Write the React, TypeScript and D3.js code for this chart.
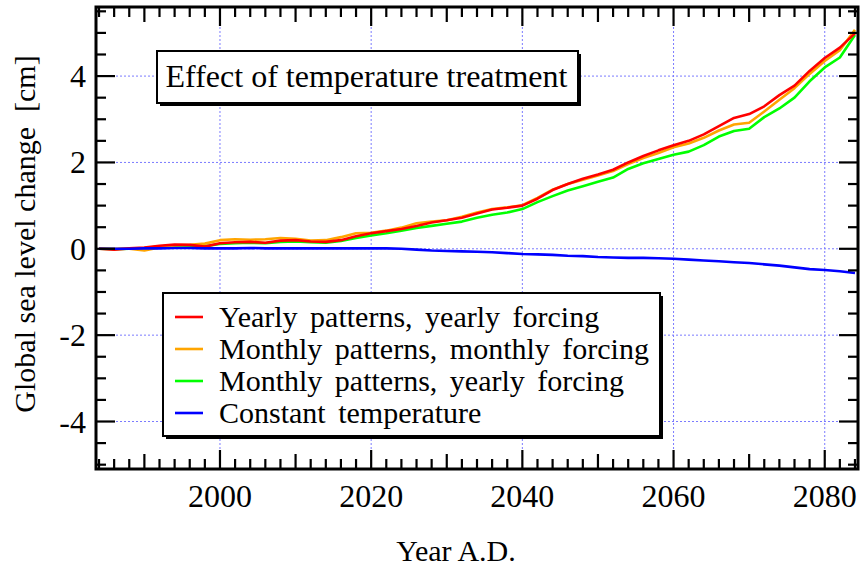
import { useEffect, useRef } from 'react';
import * as d3 from 'd3';

// x values: model years, every 2 years
const years = [
  1984, 1986, 1988, 1990, 1992, 1994, 1996, 1998, 2000, 2002,
  2004, 2006, 2008, 2010, 2012, 2014, 2016, 2018, 2020, 2022,
  2024, 2026, 2028, 2030, 2032, 2034, 2036, 2038, 2040, 2042,
  2044, 2046, 2048, 2050, 2052, 2054, 2056, 2058, 2060, 2062,
  2064, 2066, 2068, 2070, 2072, 2074, 2076, 2078, 2080, 2082,
  2084,
];

// global sea level change [cm]
const yearlyYearly = [
  0.0, -0.02, 0.01, 0.03, 0.07, 0.1, 0.09, 0.05, 0.13, 0.15,
  0.16, 0.14, 0.19, 0.2, 0.17, 0.16, 0.2, 0.29, 0.36, 0.41,
  0.46, 0.53, 0.61, 0.66, 0.72, 0.82, 0.91, 0.95, 1.0, 1.16,
  1.36, 1.5, 1.62, 1.72, 1.83, 2.0, 2.15, 2.28, 2.4, 2.5,
  2.65, 2.84, 3.03, 3.12, 3.3, 3.56, 3.78, 4.12, 4.42, 4.66,
  4.99,
];
const monthlyMonthly = [
  0.0, 0.0, 0.0, -0.04, 0.03, 0.08, 0.09, 0.12, 0.2, 0.22,
  0.21, 0.22, 0.25, 0.23, 0.19, 0.2, 0.27, 0.36, 0.37, 0.42,
  0.49, 0.59, 0.63, 0.66, 0.74, 0.84, 0.92, 0.96, 1.01, 1.18,
  1.37, 1.5, 1.6, 1.7, 1.8, 1.96, 2.1, 2.22, 2.35, 2.44,
  2.57, 2.74, 2.88, 2.92, 3.18, 3.45, 3.72, 4.05, 4.35, 4.6,
  5.07,
];
const monthlyYearly = [
  0.0, -0.01, 0.0, 0.02, 0.05, 0.08, 0.07, 0.06, 0.11, 0.13,
  0.14, 0.13, 0.16, 0.17, 0.15, 0.14, 0.18, 0.25, 0.31, 0.36,
  0.42, 0.48, 0.53, 0.58, 0.63, 0.72, 0.79, 0.84, 0.92, 1.08,
  1.22, 1.35, 1.45, 1.55, 1.65, 1.85, 1.98, 2.08, 2.18, 2.25,
  2.4, 2.6, 2.73, 2.78, 3.05, 3.25, 3.5, 3.88, 4.2, 4.43,
  4.95,
];
const constantTemp = [
  0.0, 0.0, 0.0, 0.01, 0.01, 0.02, 0.02, 0.01, 0.01, 0.01,
  0.02, 0.01, 0.01, 0.01, 0.01, 0.01, 0.01, 0.01, 0.01, 0.01,
  0.0, -0.02, -0.04, -0.05, -0.06, -0.07, -0.08, -0.1, -0.12, -0.13,
  -0.14, -0.16, -0.17, -0.19, -0.2, -0.21, -0.21, -0.22, -0.23, -0.25,
  -0.27, -0.29, -0.31, -0.33, -0.36, -0.39, -0.43, -0.47, -0.49, -0.52,
  -0.56,
];

const seriesNames = [
  'Yearly patterns, yearly forcing',
  'Monthly patterns, monthly forcing',
  'Monthly patterns, yearly forcing',
  'Constant temperature',
];
const seriesColors = ['#ff0000', '#ffa500', '#00ff00', '#0000ff'];

const xTickValues = [2000, 2020, 2040, 2060, 2080];
const yTickValues = [-4, -2, 0, 2, 4];

const titleText = 'Effect of temperature treatment';
const xTitle = 'Year A.D.';
const yTitle = 'Global sea level change  [cm]';

const FONT = 'Liberation Serif';

function App() {
  const svgRef = useRef<SVGSVGElement>(null);

  useEffect(() => {
    const svg = d3.select(svgRef.current);
    svg.selectAll('*').remove();

    const left = 96, right = 858, top = 7, bottom = 469;
    const x = d3.scaleLinear().domain([1983.6, 2084.4]).range([left, right]);
    const y = d3.scaleLinear().domain([-5.1, 5.6]).range([bottom, top]);

    svg.append('defs').append('clipPath').attr('id', 'plot-clip')
      .append('rect')
      .attr('x', left).attr('y', top)
      .attr('width', right - left).attr('height', bottom - top);

    // dotted grid at the labelled ticks
    const grid = svg.append('g').attr('stroke', '#7b7bff').attr('stroke-width', 1)
      .attr('stroke-dasharray', '2,2');
    grid.selectAll('line.vx').data(xTickValues).join('line')
      .attr('x1', d => x(d)).attr('x2', d => x(d))
      .attr('y1', top).attr('y2', bottom);
    grid.selectAll('line.hy').data(yTickValues).join('line')
      .attr('x1', left).attr('x2', right)
      .attr('y1', d => y(d)).attr('y2', d => y(d));

    // series, drawn green, orange, red, blue
    const all = [yearlyYearly, monthlyMonthly, monthlyYearly, constantTemp];
    const line = d3.line<number>()
      .x((_, i) => x(years[i]))
      .y(d => y(d));
    const drawOrder = [2, 1, 0, 3];
    svg.append('g').attr('clip-path', 'url(#plot-clip)')
      .selectAll('path').data(drawOrder).join('path')
      .attr('d', k => line(all[k]))
      .attr('fill', 'none')
      .attr('stroke', k => seriesColors[k])
      .attr('stroke-width', 2.6)
      .attr('stroke-linejoin', 'round');

    // title box
    const tb = { x: 157, y: 51, w: 421, h: 52 };
    svg.append('rect').attr('x', tb.x + 3).attr('y', tb.y + 3)
      .attr('width', tb.w).attr('height', tb.h).attr('fill', '#000');
    svg.append('rect').attr('x', tb.x).attr('y', tb.y)
      .attr('width', tb.w).attr('height', tb.h)
      .attr('fill', '#fff').attr('stroke', '#000').attr('stroke-width', 2);
    svg.append('text').attr('x', tb.x + tb.w / 2 - 1).attr('y', tb.y + 36)
      .attr('text-anchor', 'middle')
      .style('font-family', FONT).style('font-size', '32px')
      .text(titleText);

    // legend box
    const lb = { x: 163, y: 293, w: 497, h: 143 };
    svg.append('rect').attr('x', lb.x + 3).attr('y', lb.y + 3)
      .attr('width', lb.w).attr('height', lb.h).attr('fill', '#000');
    svg.append('rect').attr('x', lb.x).attr('y', lb.y)
      .attr('width', lb.w).attr('height', lb.h)
      .attr('fill', '#fff').attr('stroke', '#000').attr('stroke-width', 2);
    seriesNames.forEach((name, i) => {
      const ly = 317 + i * 32;
      svg.append('line')
        .attr('x1', 175).attr('x2', 203).attr('y1', ly).attr('y2', ly)
        .attr('stroke', seriesColors[i]).attr('stroke-width', 2.6);
      svg.append('text')
        .attr('x', 219).attr('y', ly + 10)
        .style('font-family', FONT).style('font-size', '30px')
        .style('word-spacing', '5px')
        .text(name);
    });

    // frame
    svg.append('rect').attr('x', left).attr('y', top)
      .attr('width', right - left).attr('height', bottom - top)
      .attr('fill', 'none').attr('stroke', '#000').attr('stroke-width', 3);

    // ticks, pointing inward on all four sides
    const ticks = svg.append('g').attr('stroke', '#000').attr('stroke-width', 2.2);
    const xMinor = d3.range(1984, 2085, 2);
    const xLen = (v: number) => (v % 20 === 0 ? 19 : v % 10 === 0 ? 15 : 10);
    ticks.selectAll('line.xb').data(xMinor).join('line').attr('class', 'xb')
      .attr('x1', d => x(d)).attr('x2', d => x(d))
      .attr('y1', bottom).attr('y2', d => bottom - xLen(d));
    ticks.selectAll('line.xt').data(xMinor).join('line').attr('class', 'xt')
      .attr('x1', d => x(d)).attr('x2', d => x(d))
      .attr('y1', top).attr('y2', d => top + xLen(d));
    const yMinor = d3.range(-5, 5.51, 0.5);
    const yLen = (v: number) => (Math.abs(v % 2) < 1e-9 ? 19 : 10);
    ticks.selectAll('line.yl').data(yMinor).join('line').attr('class', 'yl')
      .attr('x1', left).attr('x2', d => left + yLen(d))
      .attr('y1', d => y(d)).attr('y2', d => y(d));
    ticks.selectAll('line.yr').data(yMinor).join('line').attr('class', 'yr')
      .attr('x1', right).attr('x2', d => right - yLen(d))
      .attr('y1', d => y(d)).attr('y2', d => y(d));

    // tick labels
    xTickValues.forEach(v => {
      svg.append('text')
        .attr('x', x(v)).attr('y', 507)
        .attr('text-anchor', 'middle')
        .style('font-family', FONT).style('font-size', '32px')
        .text(String(v));
    });
    yTickValues.forEach(v => {
      svg.append('text')
        .attr('x', 86).attr('y', y(v) + 11)
        .attr('text-anchor', 'end')
        .style('font-family', FONT).style('font-size', '32px')
        .text(String(v));
    });

    // axis titles
    svg.append('text').attr('x', 456).attr('y', 561)
      .attr('text-anchor', 'middle')
      .style('font-family', FONT).style('font-size', '30px')
      .text(xTitle);
    svg.append('text')
      .attr('transform', 'translate(35,234) rotate(-90)')
      .attr('text-anchor', 'middle')
      .style('font-family', FONT).style('font-size', '30px')
      .style('white-space', 'pre')
      .text(yTitle);
  }, []);

  return (
    <svg
      ref={svgRef}
      width={862}
      height={566}
      style={{ position: 'absolute', left: 0, top: 0, background: '#fff' }}
    />
  );
}

export default App;
